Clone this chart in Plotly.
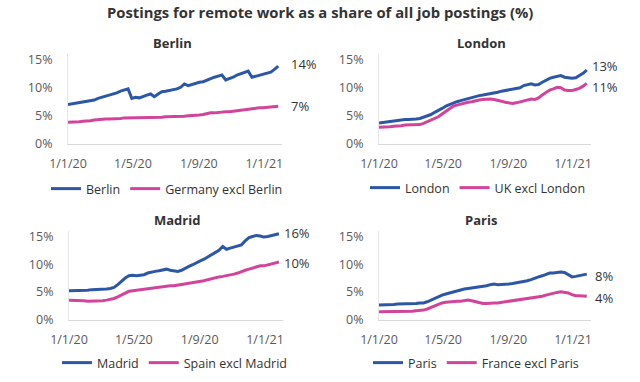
import pandas as pd
import plotly.graph_objects as go

# ---------------- data (weekly) ----------------
dates = pd.date_range("2020-01-01", periods=57, freq="7D")

berlin = [7.0, 7.1, 7.2, 7.3, 7.4, 7.5, 7.6, 7.8, 8.1, 8.3, 8.5, 8.7, 8.8, 9.1, 9.4, 9.6, 9.8,
          8.1, 8.3, 8.2, 8.5, 8.7, 8.9, 8.4, 8.9, 9.3, 9.4, 9.5, 9.6, 9.8, 10.1, 10.7, 10.4,
          10.6, 10.9, 11.0, 11.1, 11.4, 11.6, 11.9, 12.1, 12.3, 11.4, 11.6, 11.9, 12.3, 12.5,
          12.8, 13.0, 11.9, 12.1, 12.3, 12.4, 12.6, 12.8, 13.3, 13.9]
germany_excl = [3.8, 3.8, 3.9, 3.9, 4.0, 4.0, 4.1, 4.2, 4.3, 4.3, 4.4, 4.4, 4.4, 4.5, 4.5, 4.6,
                4.6, 4.6, 4.6, 4.6, 4.6, 4.7, 4.7, 4.7, 4.7, 4.7, 4.8, 4.8, 4.8, 4.8, 4.9, 4.9,
                5.0, 5.0, 5.1, 5.1, 5.2, 5.4, 5.5, 5.5, 5.6, 5.6, 5.7, 5.7, 5.8, 5.9, 6.0, 6.0,
                6.1, 6.2, 6.3, 6.4, 6.4, 6.5, 6.5, 6.6, 6.7]

london = [3.7, 3.8, 3.8, 3.9, 4.0, 4.1, 4.2, 4.3, 4.3, 4.3, 4.4, 4.5, 4.7, 5.0, 5.2, 5.6, 5.9,
          6.3, 6.7, 7.0, 7.3, 7.5, 7.7, 7.9, 8.1, 8.3, 8.5, 8.6, 8.7, 8.8, 8.9, 9.1, 9.2, 9.4,
          9.5, 9.6, 9.7, 9.8, 10.0, 10.4, 10.6, 10.7, 10.5, 10.6, 11.0, 11.4, 11.7, 11.9, 12.1,
          12.2, 11.9, 11.8, 11.7, 11.8, 12.2, 12.6, 13.2]
uk_excl = [2.9, 2.9, 3.0, 3.0, 3.1, 3.1, 3.2, 3.3, 3.3, 3.3, 3.3, 3.4, 3.6, 3.9, 4.2, 4.5, 4.8,
           5.3, 5.8, 6.3, 6.7, 6.9, 7.1, 7.2, 7.4, 7.5, 7.7, 7.8, 7.9, 8.0, 8.0, 7.9, 7.8, 7.6,
           7.4, 7.3, 7.2, 7.3, 7.5, 7.7, 7.9, 8.0, 7.9, 8.2, 8.7, 9.2, 9.6, 9.8, 10.1, 10.0,
           9.6, 9.5, 9.5, 9.7, 9.9, 10.3, 10.8]

madrid = [5.2, 5.2, 5.2, 5.3, 5.3, 5.3, 5.4, 5.4, 5.5, 5.5, 5.5, 5.6, 5.8, 6.3, 6.9, 7.5, 7.9,
          8.0, 7.9, 8.0, 8.1, 8.4, 8.6, 8.7, 8.8, 8.9, 9.1, 8.9, 8.8, 8.7, 8.9, 9.3, 9.6, 9.9,
          10.3, 10.6, 10.9, 11.3, 11.6, 12.0, 12.5, 13.2, 12.7, 12.9, 13.1, 13.4, 13.5, 14.2,
          14.8, 15.0, 15.2, 15.1, 14.9, 15.0, 15.2, 15.3, 15.5]
spain_excl = [3.5, 3.5, 3.4, 3.4, 3.4, 3.3, 3.3, 3.4, 3.4, 3.4, 3.5, 3.6, 3.8, 4.1, 4.4, 4.8,
              5.1, 5.2, 5.3, 5.4, 5.5, 5.6, 5.7, 5.8, 5.9, 6.0, 6.1, 6.1, 6.1, 6.2, 6.3, 6.4,
              6.5, 6.6, 6.7, 6.9, 7.0, 7.2, 7.4, 7.5, 7.7, 7.8, 7.9, 8.0, 8.2, 8.4, 8.7, 8.9,
              9.1, 9.3, 9.5, 9.7, 9.7, 9.9, 10.1, 10.3, 10.4]

paris = [2.6, 2.6, 2.6, 2.7, 2.7, 2.8, 2.8, 2.8, 2.9, 2.9, 2.9, 3.0, 3.0, 3.2, 3.5, 3.9, 4.2,
         4.4, 4.6, 4.8, 5.0, 5.2, 5.4, 5.5, 5.6, 5.7, 5.7, 5.8, 5.9, 6.1, 6.3, 6.4, 6.3, 6.3,
         6.3, 6.4, 6.5, 6.6, 6.7, 6.8, 7.0, 7.2, 7.5, 7.7, 7.9, 8.2, 8.4, 8.4, 8.5, 8.6, 8.5,
         8.1, 7.7, 7.8, 7.9, 8.0, 8.2]
france_excl = [1.4, 1.4, 1.4, 1.4, 1.5, 1.5, 1.5, 1.5, 1.5, 1.5, 1.6, 1.6, 1.7, 1.9, 2.2, 2.5,
               2.8, 3.0, 3.1, 3.2, 3.2, 3.3, 3.3, 3.4, 3.5, 3.4, 3.2, 3.0, 2.9, 2.9, 3.0, 3.0,
               3.0, 3.1, 3.1, 3.2, 3.3, 3.4, 3.5, 3.6, 3.7, 3.8, 3.9, 4.0, 4.2, 4.4, 4.6, 4.8,
               4.9, 5.0, 4.9, 4.8, 4.5, 4.3, 4.3, 4.2, 4.2]

panel_titles = ["Berlin", "London", "Madrid", "Paris"]
city_names = ["Berlin", "London", "Madrid", "Paris"]
rest_names = ["Germany excl Berlin", "UK excl London", "Spain excl Madrid", "France excl Paris"]
city_series = [berlin, london, madrid, paris]
rest_series = [germany_excl, uk_excl, spain_excl, france_excl]

x_tickvals = ["2020-01-01", "2020-05-01", "2020-09-01", "2021-01-01"]
x_ticktext = ["1/1/20", "1/5/20", "1/9/20", "1/1/21"]
y_tickvals = [0, 5, 10, 15]
y_ticktext = ["0%", "5%", "10%", "15%"]
title_text = "Postings for remote work as a share of all job postings (%)"

# ---------------- styling ----------------
W, H = 640, 382
BLUE = "#2C57A6"
PINK = "#D2449A"
FONT = "Open Sans"
DARK = "#333333"
TICK = "#595959"

# pixel boxes: (left, right, top, bottom)
boxes = [(68, 282, 54.4, 143.5), (379, 590.5, 54.4, 143.5),
         (69, 282.7, 231, 319.5), (379, 590.5, 231, 319.5)]
legend_pos = [(46, 189), (365, 188), (57, 363), (368, 363)]
title_pos = [(172, 43), (481, 43), (177, 220), (481, 220)]
# nudges of the end-value labels: x, y(city), y(rest)
label_xshift = [11, 3, 3, 6]
label_yshift = [(2, 0), (4, -4), (1, -1), (-2, -2)]

fig = go.Figure()
layout = dict(
    width=W, height=H, margin=dict(l=0, r=0, t=0, b=0, autoexpand=False),
    paper_bgcolor="white", plot_bgcolor="white",
    font=dict(family=FONT, color=DARK, size=12),
    showlegend=True,
    annotations=[],
)

for i in range(4):
    n = "" if i == 0 else str(i + 1)
    xa, ya = "x" + n, "y" + n
    lg = "legend" + n
    pairs = [(city_names[i], city_series[i], BLUE, label_yshift[i][0]),
             (rest_names[i], rest_series[i], PINK, label_yshift[i][1])]
    for name, vals, col, ys in pairs:
        fig.add_trace(go.Scatter(
            x=dates, y=vals, name=name, mode="lines",
            line=dict(color=col, width=3), xaxis=xa, yaxis=ya, legend=lg,
            hoverinfo="skip"))
        layout["annotations"].append(dict(
            x=dates[-1], y=vals[-1], xref=xa, yref=ya, text=f"{int(vals[-1] + 0.5)}%",
            showarrow=False, xanchor="left", yanchor="middle",
            xshift=label_xshift[i], yshift=ys,
            font=dict(family=FONT, size=13, color=DARK)))
    l, r, t, b = boxes[i]
    layout["xaxis" + n] = dict(
        domain=[l / W, r / W], range=["2020-01-01", "2021-02-03"], anchor=ya,
        tickvals=x_tickvals, ticktext=x_ticktext, showgrid=False, zeroline=False,
        showline=True, linecolor="#d9d9d9", linewidth=1, ticks="", automargin=False,
        ticklabelstandoff=8, tickfont=dict(family=FONT, size=12.5, color=TICK))
    layout["yaxis" + n] = dict(
        domain=[1 - b / H, 1 - t / H], range=[0, 16], anchor=xa,
        tickvals=y_tickvals, ticktext=y_ticktext, showgrid=False, zeroline=False,
        showline=True, linecolor="#e6e6e6", linewidth=1, ticks="", automargin=False,
        ticklabelstandoff=12, tickfont=dict(family=FONT, size=12.5, color=TICK))
    lx, ly = legend_pos[i]
    layout[lg] = dict(
        x=lx / W, y=1 - ly / H, xanchor="left", yanchor="middle",
        orientation="h", bgcolor="rgba(0,0,0,0)", itemwidth=30,
        font=dict(family=FONT, size=12.5, color=DARK), tracegroupgap=0,
        itemclick=False, itemdoubleclick=False)
    tx, ty = title_pos[i]
    layout["annotations"].append(dict(
        text="<b>" + panel_titles[i] + "</b>", x=tx / W, y=1 - ty / H,
        xref="paper", yref="paper", showarrow=False, xanchor="center", yanchor="middle",
        font=dict(family=FONT, size=13, color=DARK)))

layout["annotations"].append(dict(
    text="<b>" + title_text + "</b>", x=0.5, y=1 - 12 / H, xref="paper", yref="paper",
    showarrow=False, xanchor="center", yanchor="middle",
    font=dict(family=FONT, size=14.8, color=DARK)))

fig.update_layout(**layout)
fig.write_html("out.html",
               config={"displayModeBar": False, "staticPlot": True},
               post_script="document.body.style.margin='0';document.body.style.overflow='hidden';")
